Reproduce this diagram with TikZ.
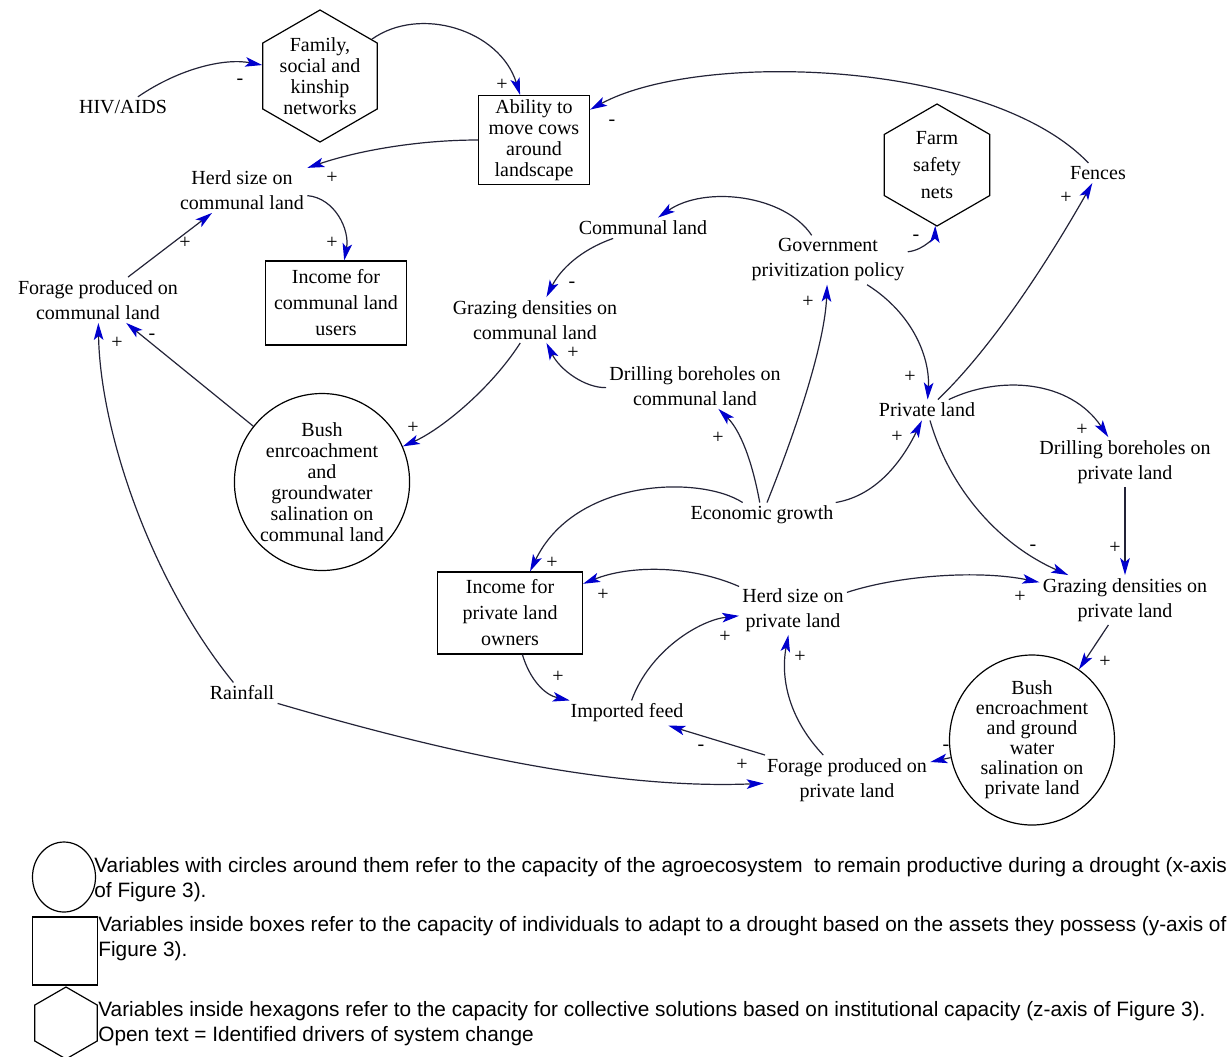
\documentclass[tikz,border=0pt]{standalone}
\usepackage{fontspec}
\setmainfont{Liberation Serif}
\newfontfamily\legendfont{Liberation Sans}
\usepackage{xcolor}
\usepackage{tikz}
\usetikzlibrary{arrows.meta,shapes.geometric}
\definecolor{tipblue}{RGB}{0,0,205}
\definecolor{linkgray}{RGB}{35,35,55}
\newcommand{\varfont}{\fontsize{10}{12.5}\selectfont}
\newcommand{\tightfont}{\fontsize{10}{10.5}\selectfont}

\begin{document}
\begin{tikzpicture}[x=0.5pt,y=-0.5pt,
        var/.style={align=center,inner sep=1.5pt,font=\varfont},
        tight/.style={var,font=\tightfont},
        boxvar/.style={tight,draw,line width=0.6pt},
        circvar/.style={tight,draw,ellipse,inner sep=0pt,line width=0.6pt},
        hexvar/.style={var,draw,regular polygon,regular polygon sides=6,shape border rotate=30,inner sep=0pt,line width=0.6pt},
        link/.style={draw=linkgray,line width=0.6pt,-{Stealth[length=8.5pt,width=4.8pt,inset=2pt,color=tipblue]}},
        sign/.style={inner sep=0pt,font=\varfont},
        legend/.style={align=left,inner sep=0pt,font=\legendfont\fontsize{10.4}{12.4}\selectfont}]
                \useasboundingbox (0,0) rectangle (1231,1056);
                \node[var] (hiv) at (123,107) {HIV/AIDS};
                \node[hexvar,font=\tightfont,minimum size=66pt] (family) at (320,76) {Family,\\social and\\kinship\\networks};
                \node[boxvar,minimum width=55.5pt,minimum height=44.5pt] (abil) at (534,140) {Ability to\\move cows\\around\\landscape};
                \node[var] (herdc) at (242,190) {Herd size on\\communal land};
                \node[boxvar,font=\fontsize{10}{13}\selectfont,minimum width=70.5pt,minimum height=42pt] (incc) at (336,303) {Income for\\communal land\\users};
                \node[var] (foragec) at (98,300) {Forage produced on\\communal land};
                \node[circvar,minimum width=83pt,minimum height=88.5pt] (bushc) at (322,482) {Bush\\enrcoachment\\and\\groundwater\\salination on\\communal land};
                \node[var] (rain) at (242,693) {Rainfall};
                \node[var] (comm) at (643,228) {Communal land};
                \node[var] (grazc) at (535,320) {Grazing densities on\\communal land};
                \node[var] (drillc) at (695,386) {Drilling boreholes on\\communal land};
                \node[var] (gov) at (828,260) {Government\\privitization policy};
                \node[hexvar,font=\fontsize{10}{13.5}\selectfont,minimum size=61pt] (farm) at (937,165) {Farm\\safety\\nets};
                \node[var] (fences) at (1098,173) {Fences};
                \node[var] (priv) at (927,410) {Private land};
                \node[var] (econ) at (762,515) {Economic growth};
                \node[var] (drillp) at (1125,462) {Drilling boreholes on\\private land};
                \node[var] (grazp) at (1125,600) {Grazing densities on\\private land};
                \node[var] (herdp) at (793,610) {Herd size on\\private land};
                \node[boxvar,font=\fontsize{10}{13}\selectfont,minimum width=72.5pt,minimum height=41pt] (incp) at (510,613) {Income for\\private land\\owners};
                \node[var] (feed) at (627,713) {Imported feed};
                \node[var] (foragep) at (847,780) {Forage produced on\\private land};
                \node[circvar,font=\fontsize{10}{10}\selectfont,minimum width=82.5pt,minimum height=85pt] (bushp) at (1032,740) {Bush\\encroachment\\and ground\\water\\salination on\\private land};
                \draw[link] (hiv) .. controls (180,68) and (225,58) .. (family);
                \draw[link] (family) .. controls (420,5) and (500,30) .. (abil);
                \draw[link] (fences) .. controls (990,60) and (700,50) .. (abil);
                \draw[link] (abil) .. controls (420,140) and (360,150) .. (herdc);
                \draw[link] (herdc) .. controls (335,198) and (350,230) .. (incc);
                \draw[link] (foragec) -- (herdc);
                \draw[link] (bushc) -- (foragec);
                \draw[link] (rain) .. controls (150,580) and (100,430) .. (foragec);
                \draw[link] (rain) .. controls (420,745) and (600,790) .. (foragep);
                \draw[link] (comm) .. controls (580,250) and (560,270) .. (grazc);
                \draw[link] (gov) .. controls (785,195) and (705,185) .. (comm);
                \draw[link] (drillc) .. controls (585,388) and (560,370) .. (grazc);
                \draw[link] (grazc) .. controls (490,390) and (440,430) .. (bushc);
                \draw[link] (gov) .. controls (925,250) and (935,235) .. (farm);
                \draw[link] (econ) .. controls (752,460) and (740,430) .. (drillc);
                \draw[link] (econ) .. controls (800,420) and (825,340) .. (gov);
                \draw[link] (econ) .. controls (880,495) and (905,455) .. (priv);
                \draw[link] (econ) .. controls (700,475) and (575,478) .. (incp);
                \draw[link] (gov) .. controls (915,315) and (930,360) .. (priv);
                \draw[link] (priv) .. controls (1000,340) and (1060,240) .. (fences);
                \draw[link] (priv) .. controls (1000,375) and (1070,380) .. (drillp);
                \draw[link] (drillp) -- (grazp);
                \draw[link] (priv) .. controls (950,490) and (1000,545) .. (grazp);
                \draw[link] (herdp) .. controls (900,575) and (980,570) .. (grazp);
                \draw[link] (herdp) .. controls (690,565) and (630,565) .. (incp);
                \draw[link] (incp) .. controls (530,680) and (545,695) .. (feed);
                \draw[link] (feed) .. controls (650,650) and (700,620) .. (herdp);
                \draw[link] (foragep) .. controls (790,720) and (780,680) .. (herdp);
                \draw[link] (foragep) -- (feed);
                \draw[link] (grazp) -- (bushp);
                \draw[link] (bushp) -- (foragep);
                \node[sign] (s1) at (240,82) {-};
                \node[sign] (s2) at (502,85) {+};
                \node[sign] (s3) at (612,123) {-};
                \node[sign] (s4) at (332,178) {+};
                \node[sign] (s5) at (332,243) {+};
                \node[sign] (s6) at (185,243) {+};
                \node[sign] (s7) at (152,337) {-};
                \node[sign] (s8) at (117,343) {+};
                \node[sign] (s9) at (742,765) {+};
                \node[sign] (s10) at (572,285) {-};
                \node[sign] (s11) at (573,353) {+};
                \node[sign] (s12) at (413,428) {+};
                \node[sign] (s13) at (916,238) {-};
                \node[sign] (s14) at (718,438) {+};
                \node[sign] (s15) at (808,302) {+};
                \node[sign] (s16) at (897,437) {+};
                \node[sign] (s17) at (552,563) {+};
                \node[sign] (s18) at (910,377) {+};
                \node[sign] (s19) at (1066,198) {+};
                \node[sign] (s20) at (1082,430) {+};
                \node[sign] (s21) at (1115,548) {+};
                \node[sign] (s22) at (1033,548) {-};
                \node[sign] (s23) at (1020,597) {+};
                \node[sign] (s24) at (603,595) {+};
                \node[sign] (s25) at (558,677) {+};
                \node[sign] (s26) at (725,637) {+};
                \node[sign] (s27) at (800,657) {+};
                \node[sign] (s28) at (701,748) {-};
                \node[sign] (s29) at (1105,662) {+};
                \node[sign] (s30) at (946,748) {-};
                \node[draw,ellipse,line width=0.6pt,minimum width=31.5pt,minimum height=35pt,inner sep=0pt] (lcirc) at (64,877) {};
                \node[draw,line width=0.6pt,minimum width=32.5pt,minimum height=34pt,inner sep=0pt] (lbox) at (65,951) {};
                \node[draw,regular polygon,regular polygon sides=6,shape border rotate=30,line width=0.6pt,minimum size=36pt,inner sep=0pt] (lhex) at (66,1023) {};
                \node[legend,anchor=west] (leg1) at (94,880) {Variables with circles around them refer to the capacity of the agroecosystem \ to remain productive during a drought (x-axis\\of Figure 3).};
                \node[legend,anchor=west] (leg2) at (98,939) {Variables inside boxes refer to the capacity of individuals to adapt to a drought based on the assets they possess (y-axis of\\Figure 3).};
                \node[legend,anchor=west] (leg3) at (98,1024) {Variables inside hexagons refer to the capacity for collective solutions based on institutional capacity (z-axis of Figure 3).\\Open text = Identified drivers of system change};
            \end{tikzpicture}
\end{document}
